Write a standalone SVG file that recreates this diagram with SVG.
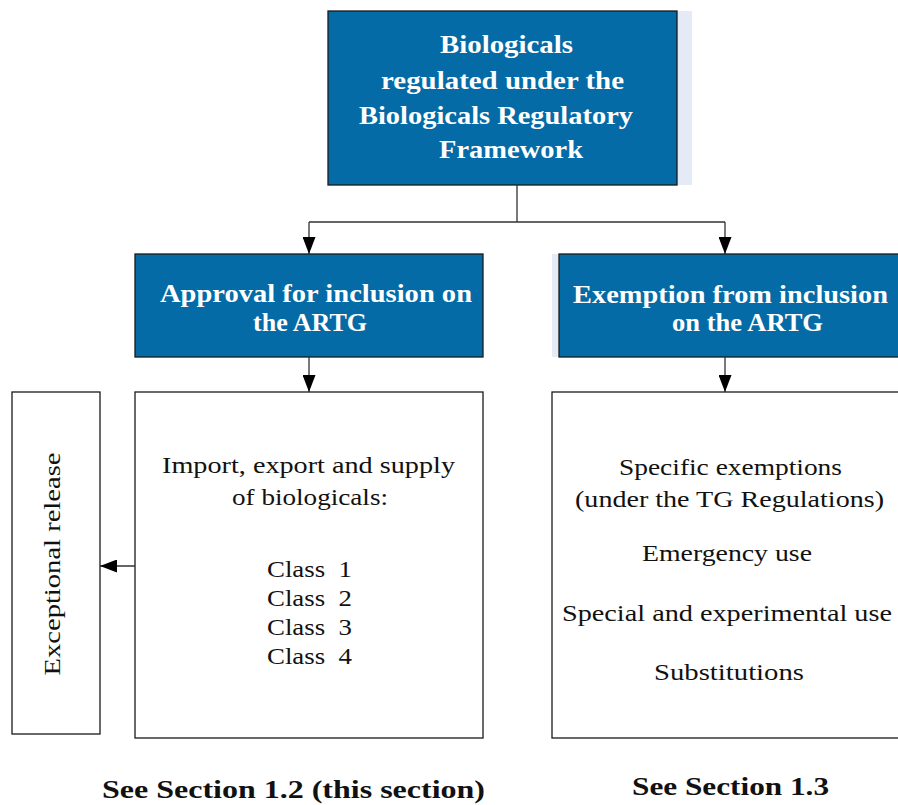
<svg xmlns="http://www.w3.org/2000/svg" width="898" height="805" viewBox="0 0 898 805">
<style>
.blue{fill:#046ba6;stroke:#1a1a1a;stroke-width:1.3}
.white{fill:#fff;stroke:#1a1a1a;stroke-width:1.3}
.shadow{fill:#e4ebf6}
.bt{font-family:"Liberation Serif",serif;font-weight:bold;fill:#fff;font-size:25px;text-anchor:middle}
.t{font-family:"Liberation Serif",serif;fill:#111;font-size:23px;text-anchor:middle}
.lbl{font-family:"Liberation Serif",serif;font-weight:bold;fill:#111;font-size:26px;text-anchor:middle}
.ln{stroke:#333;stroke-width:1.3;fill:none}
</style>
<defs>
<marker id="ah" markerWidth="17" markerHeight="13" refX="17" refY="6.5" orient="auto" markerUnits="userSpaceOnUse" viewBox="0 0 17 13">
<path d="M0,0 L17,6.5 L0,13 z" fill="#000"/>
</marker>
</defs>
<g id="top">
<rect class="shadow" x="677" y="11" width="15" height="174"/>
<rect class="blue" x="328" y="11" width="349" height="174"/>
<text class="bt" x="506.5" y="53" textLength="133" lengthAdjust="spacingAndGlyphs">Biologicals</text>
<text class="bt" x="502.5" y="89" textLength="243" lengthAdjust="spacingAndGlyphs">regulated under the</text>
<text class="bt" x="496" y="124" textLength="274" lengthAdjust="spacingAndGlyphs">Biologicals Regulatory</text>
<text class="bt" x="511" y="158" textLength="144" lengthAdjust="spacingAndGlyphs">Framework</text>
</g>
<g id="approval">
<rect class="blue" x="135" y="254" width="348" height="103"/>
<text class="bt" x="316" y="302" textLength="312" lengthAdjust="spacingAndGlyphs">Approval for inclusion on</text>
<text class="bt" x="310" y="331" textLength="114" lengthAdjust="spacingAndGlyphs">the ARTG</text>
</g>
<g id="exemption">
<rect class="shadow" x="552" y="254" width="8" height="103"/>
<rect class="blue" x="559" y="254" width="345" height="103"/>
<text class="bt" x="730.5" y="303" textLength="315" lengthAdjust="spacingAndGlyphs">Exemption from inclusion</text>
<text class="bt" x="747.5" y="331" textLength="151" lengthAdjust="spacingAndGlyphs">on the ARTG</text>
</g>
<g id="import">
<rect class="white" x="135" y="392" width="348" height="346"/>
<text class="t" x="308.5" y="473" textLength="293" lengthAdjust="spacingAndGlyphs">Import, export and supply</text>
<text class="t" x="310" y="505" textLength="156" lengthAdjust="spacingAndGlyphs">of biologicals:</text>
<text class="t" x="309.5" y="577" textLength="85" lengthAdjust="spacingAndGlyphs" xml:space="preserve">Class  1</text>
<text class="t" x="309.5" y="606" textLength="85" lengthAdjust="spacingAndGlyphs" xml:space="preserve">Class  2</text>
<text class="t" x="309.5" y="635" textLength="85" lengthAdjust="spacingAndGlyphs" xml:space="preserve">Class  3</text>
<text class="t" x="309.5" y="664" textLength="85" lengthAdjust="spacingAndGlyphs" xml:space="preserve">Class  4</text>
</g>
<g id="specific">
<rect class="white" x="552" y="392" width="352" height="346"/>
<text class="t" x="730.5" y="475" textLength="223" lengthAdjust="spacingAndGlyphs">Specific exemptions</text>
<text class="t" x="729.5" y="507" textLength="309" lengthAdjust="spacingAndGlyphs">(under the TG Regulations)</text>
<text class="t" x="727" y="561" textLength="170" lengthAdjust="spacingAndGlyphs">Emergency use</text>
<text class="t" x="727" y="621" textLength="330" lengthAdjust="spacingAndGlyphs">Special and experimental use</text>
<text class="t" x="729" y="680" textLength="150" lengthAdjust="spacingAndGlyphs">Substitutions</text>
</g>
<g id="exceptional">
<rect class="white" x="12" y="392" width="88" height="342"/>
<text class="t" transform="translate(60,564) rotate(-90)" textLength="223" lengthAdjust="spacingAndGlyphs">Exceptional release</text>
</g>
<g id="connectors">
<path class="ln" d="M517,185 V222 M309,222 H725"/>
<path class="ln" d="M309,222 V254" marker-end="url(#ah)"/>
<path class="ln" d="M725,222 V254" marker-end="url(#ah)"/>
<path class="ln" d="M309,357 V392" marker-end="url(#ah)"/>
<path class="ln" d="M725,357 V392" marker-end="url(#ah)"/>
<path class="ln" d="M135,566 H100" marker-end="url(#ah)"/>
</g>
<text class="lbl" x="293.5" y="798" textLength="383" lengthAdjust="spacingAndGlyphs">See Section 1.2 (this section)</text>
<text class="lbl" x="730.5" y="795" textLength="197" lengthAdjust="spacingAndGlyphs">See Section 1.3</text>
</svg>
